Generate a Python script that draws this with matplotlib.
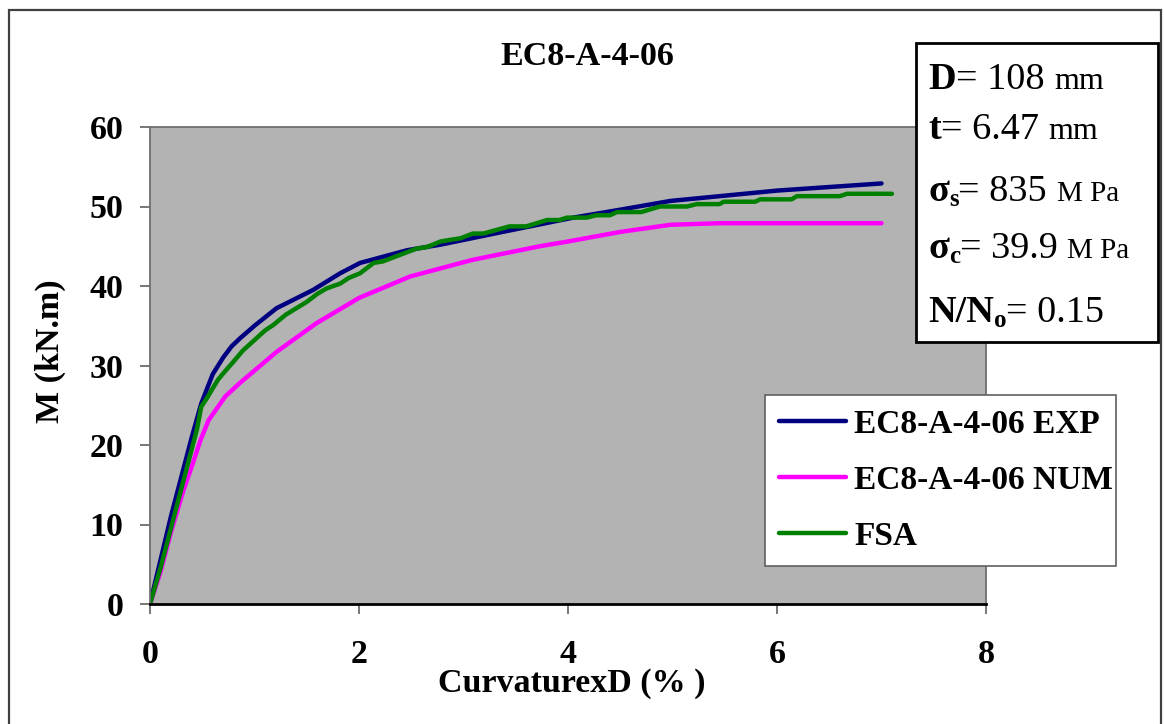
import matplotlib.pyplot as plt
import matplotlib.transforms as mtransforms
from matplotlib.patches import Rectangle

plt.rcParams['font.family'] = ['Liberation Serif', 'DejaVu Serif']

# datos
exp_x = [0, 0.1, 0.2, 0.32, 0.4, 0.49, 0.6, 0.7, 0.78, 0.86, 1.0, 1.21, 1.56, 1.82,
         2.01, 2.46, 2.78, 3.41, 4.05, 4.5, 4.98, 6.0, 7.0]
exp_y = [0, 5.5, 11, 17, 21, 25.2, 28.9, 31.0, 32.4, 33.4, 35, 37.2, 39.5, 41.6,
         42.9, 44.5, 45.2, 46.9, 48.6, 49.6, 50.7, 52.0, 52.9]

num_x = [0, 0.1, 0.2, 0.32, 0.4, 0.48, 0.56, 0.72, 0.86, 1.21, 1.59, 2.0, 2.49,
         3.09, 3.73, 4.0, 4.5, 4.98, 5.45, 7.0]
num_y = [0, 4, 9, 14.3, 17.3, 20.5, 23.1, 26.1, 27.8, 31.7, 35.3, 38.5, 41.2,
         43.3, 45.0, 45.6, 46.8, 47.7, 47.9, 47.9]

fsa_x = [0, 0.1, 0.2, 0.3, 0.38, 0.45, 0.49, 0.55, 0.59, 0.65, 0.7, 0.8, 0.89,
         1.0, 1.1, 1.18, 1.3, 1.4, 1.5, 1.6, 1.69, 1.82, 1.9, 2.01, 2.14, 2.23,
         2.55, 2.65, 2.78, 2.87, 2.97, 3.09, 3.19, 3.44, 3.6, 3.8, 3.92, 3.99,
         4.18, 4.27, 4.4, 4.47, 4.7, 4.88, 5.14, 5.23, 5.45, 5.49, 5.79, 5.84,
         6.14, 6.19, 6.6, 6.67, 7.1]
fsa_y = [0, 4.5, 9.5, 14.5, 18.5, 22, 24.8, 26, 26.9, 28.2, 29.0, 30.5, 31.9,
         33.2, 34.4, 35.1, 36.4, 37.2, 38.0, 39.0, 39.7, 40.3, 41.0, 41.6, 42.9,
         43.1, 44.7, 44.9, 45.6, 45.8, 46.0, 46.6, 46.6, 47.5, 47.5, 48.3, 48.3,
         48.6, 48.6, 48.9, 48.9, 49.3, 49.3, 50.0, 50.0, 50.3, 50.3, 50.6, 50.6,
         50.9, 50.9, 51.3, 51.3, 51.6, 51.6]

labels = ['EC8-A-4-06 EXP', 'EC8-A-4-06 NUM', 'FSA']
colors = ['#000080', '#ff00ff', '#008000']

W, H = 1164, 724
fig = plt.figure(figsize=(W / 100, H / 100), dpi=100)
ax = fig.add_axes([150 / W, 1 - 604 / H, 836 / W, 477 / H])
ax.set_facecolor('#b3b3b3')

ax.plot(exp_x, exp_y, color=colors[0], lw=3.2, label=labels[0], solid_capstyle='round')
ax.plot(num_x, num_y, color=colors[1], lw=3.2, label=labels[1], solid_capstyle='round')
ax.plot(fsa_x, fsa_y, color=colors[2], lw=3.2, label=labels[2], solid_capstyle='round')

ax.set_xlim(0, 8)
ax.set_ylim(0, 60)
ax.set_xticks([0, 2, 4, 6, 8])
ax.set_yticks(range(0, 61, 10))
ax.tick_params(axis='both', direction='out', length=7, width=1.2, color='#606060',
               labelsize=24.5)
ax.tick_params(axis='y', pad=12)
ax.tick_params(axis='x', pad=18)
for lab in ax.get_xticklabels() + ax.get_yticklabels():
    lab.set_fontweight('bold')
for s in ['left', 'top', 'right']:
    ax.spines[s].set_color('#707070')
    ax.spines[s].set_linewidth(1.3)
ax.spines['bottom'].set_color('black')
ax.spines['bottom'].set_linewidth(2)

ax.set_xlabel('CurvaturexD (% )', fontsize=24.5, fontweight='bold')
ax.xaxis.set_label_coords(0.504, -0.135)
ax.set_ylabel('M (kN.m)', fontsize=24.5, fontweight='bold')
ax.yaxis.set_label_coords(-0.10, 0.53)

fig.text(587 / W, 1 - 65 / H, 'EC8-A-4-06', fontsize=24.5, fontweight='bold',
         ha='center', va='baseline')

leg = ax.legend(loc='upper left', bbox_to_anchor=(765 / W, 1 - 562 / H, 351 / W, 167 / H),
                bbox_transform=fig.transFigure, mode='expand', borderaxespad=0,
                prop={'weight': 'bold', 'size': 24}, handlelength=2.0,
                handletextpad=0.25, labelspacing=0.75, borderpad=0.42,
                fancybox=False, framealpha=1, edgecolor='#606060')
leg.get_frame().set_linewidth(1.2)

# marco exterior
fig.add_artist(Rectangle((9 / W, -0.01), 1152 / W, 1 - 10 / H + 0.01,
                         transform=fig.transFigure, fill=False,
                         edgecolor='#404040', lw=1.6))

# cuadro de parametros
fig.add_artist(Rectangle((916 / W, 1 - 342 / H), 242 / W, 299 / H,
                         transform=fig.transFigure, facecolor='white',
                         edgecolor='black', lw=2, zorder=5))

ident = mtransforms.IdentityTransform()
fig.canvas.draw()
renderer = fig.canvas.get_renderer()

# (texto, peso, tamano, desplazamiento vertical)
rows = [
    (89, [('D', 'bold', 27.5, 0), ('= 108 ', 'normal', 27.5, 0), ('mm', 'normal', 23, 0)]),
    (139, [('t', 'bold', 27.5, 0), ('= 6.47 ', 'normal', 27.5, 0), ('mm', 'normal', 23, 0)]),
    (201, [('σ', 'bold', 27.5, 0), ('s', 'bold', 18, -5), ('= 835 ', 'normal', 27.5, 0),
           ('M Pa', 'normal', 21, 0)]),
    (258, [('σ', 'bold', 27.5, 0), ('c', 'bold', 18, -5), ('= 39.9 ', 'normal', 27.5, 0),
           ('M Pa', 'normal', 21, 0)]),
    (322, [('N/N', 'bold', 27.5, 0), ('o', 'bold', 18, -5), ('= 0.15', 'normal', 27.5, 0)]),
]
for yb, pieces in rows:
    x = 928
    for s, w, size, dy in pieces:
        t = fig.text(x, H - yb + dy, s, fontsize=size, fontweight=w, va='baseline',
                     ha='left', transform=ident, zorder=6)
        x = t.get_window_extent(renderer).x1

fig.savefig('out.png', dpi=100)
